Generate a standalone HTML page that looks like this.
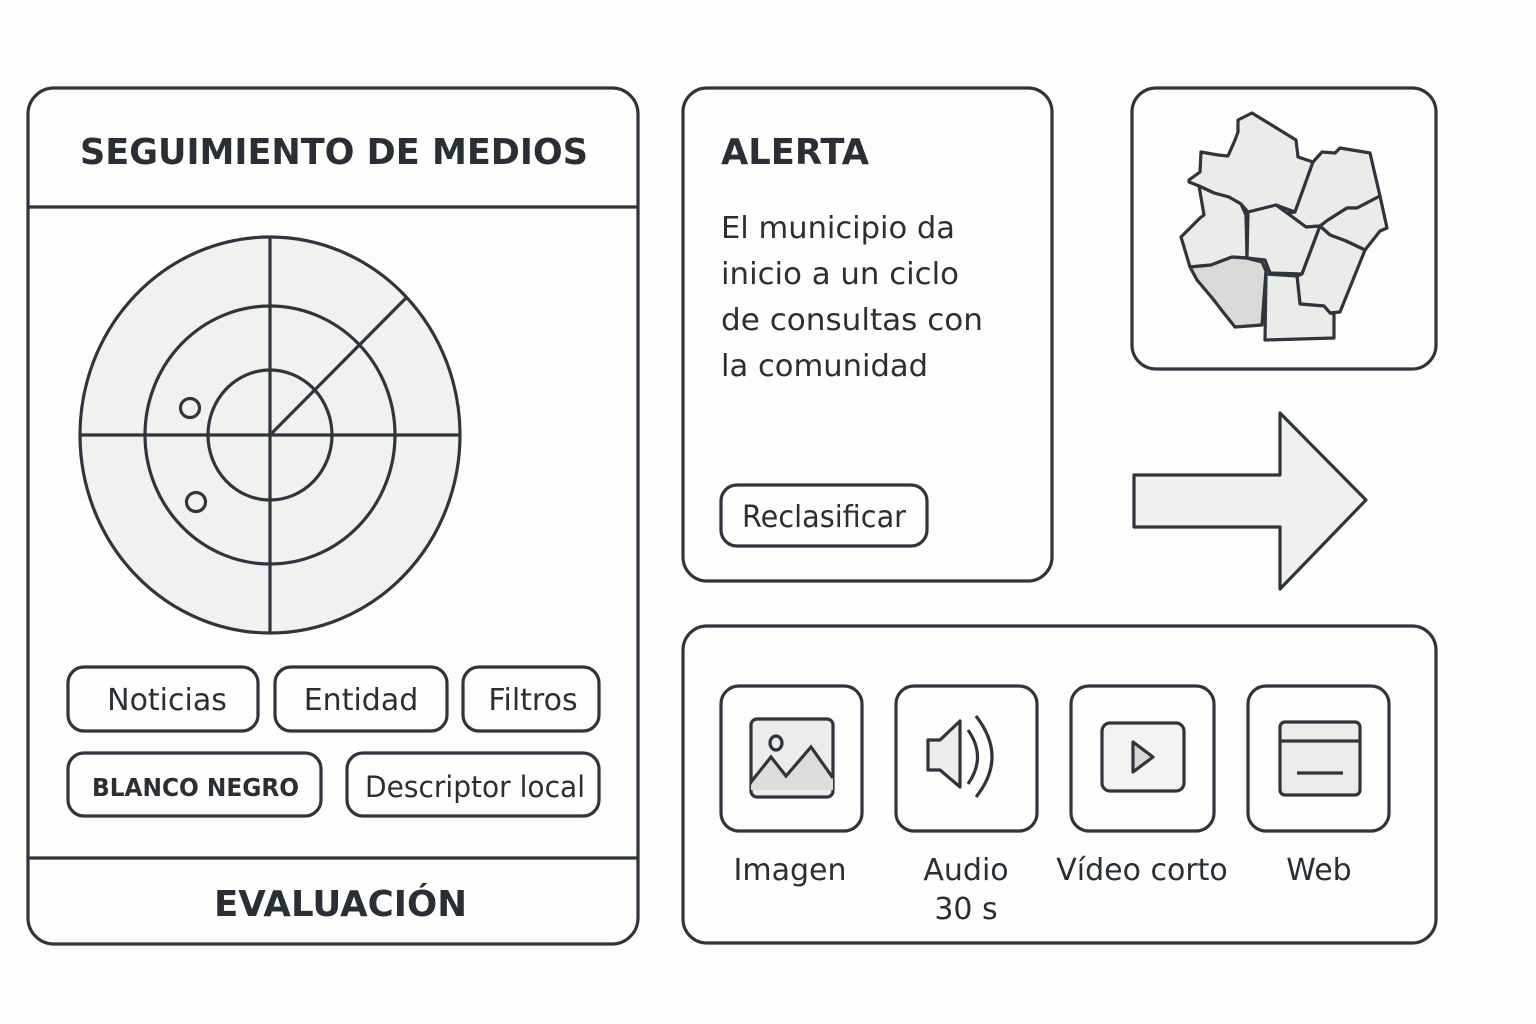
<!DOCTYPE html>
<html><head><meta charset="utf-8"><style>
html,body{margin:0;padding:0;background:#fdfdfc;}
svg{display:block;}
text{font-family:"DejaVu Sans","Liberation Sans",sans-serif;fill:#2a2f36;}
</style></head><body>
<svg width="1536" height="1024" viewBox="0 0 1536 1024" xmlns="http://www.w3.org/2000/svg">
<rect width="1536" height="1024" fill="#fdfdfc"/>
<g fill="none" stroke="#2f353d" stroke-width="3.2">
<rect x="28" y="88" width="610" height="856" rx="26" fill="#fdfdfc"/>
<line x1="28" y1="207" x2="638" y2="207"/>
<line x1="28" y1="858" x2="638" y2="858"/>
<ellipse cx="270" cy="435" rx="190" ry="198" fill="#f1f1f0"/>
<ellipse cx="270" cy="435" rx="125" ry="129"/>
<ellipse cx="270" cy="435" rx="62" ry="65"/>
<line x1="270" y1="237" x2="270" y2="633"/>
<line x1="80" y1="435" x2="461" y2="435"/>
<line x1="270" y1="435" x2="406" y2="298"/>
<circle cx="190" cy="408" r="9.5"/>
<circle cx="196" cy="502" r="9.5"/>
<rect x="68" y="667" width="190" height="64" rx="16"/>
<rect x="275" y="667" width="172" height="64" rx="16"/>
<rect x="463" y="667" width="136" height="64" rx="16"/>
<rect x="68" y="753" width="253" height="63" rx="16"/>
<rect x="347" y="753" width="252" height="63" rx="16"/>
<rect x="683" y="88" width="369" height="493" rx="24" fill="#fdfdfc"/>
<rect x="721" y="485" width="206" height="61" rx="16"/>
<rect x="1132" y="88" width="304" height="281" rx="24"/>
<g fill="#ebebea" stroke-linejoin="round">
<path d="M1189,180 L1200,172 L1201,152 L1218,155 L1228,156 L1235,140 L1238,132 L1238,120 L1252,113 L1296,140 L1298,157 L1313,162 L1295,212 L1276,205 L1260,210 L1248,212 L1241,204 L1229,197 L1214,193 L1199,186 L1189,182 Z"/>
<path d="M1313,162 L1322,152 L1335,153 L1340,148 L1370,153 L1380,196 L1357,208 L1347,208 L1328,220 L1320,226 L1306,227 L1287,213 L1295,212 Z"/>
<path d="M1199,186 L1204,215 L1200,218 L1181,237 L1190,267 L1211,265 L1232,257 L1247,258 L1246,215 L1241,204 L1229,197 L1214,193 Z"/>
<path d="M1248,212 L1276,205 L1287,213 L1306,227 L1320,226 L1302,274 L1270,273 L1265,260 L1247,258 Z"/>
<path d="M1380,196 L1387,228 L1380,231 L1365,250 L1346,241 L1330,235 L1320,226 L1328,220 L1347,208 L1357,208 Z"/>
<path d="M1320,226 L1330,235 L1346,241 L1365,250 L1340,312 L1330,313 L1324,306 L1300,304 L1297,276 L1302,274 Z"/>
<path d="M1190,267 L1197,280 L1213,299 L1223,312 L1235,327 L1262,325 L1266,271 L1262,262 L1246,258 L1232,257 L1211,265 Z" fill="#d9d9d8"/>
<path d="M1266,274 L1297,276 L1300,304 L1324,306 L1330,313 L1334,314 L1334,338 L1265,340 Z"/>
</g>
<path d="M1134,475 L1280,475 L1280,413 L1366,500 L1280,589 L1280,527 L1134,527 Z" fill="#f0f0ef" stroke-linejoin="round"/>
<rect x="683" y="626" width="753" height="317" rx="24"/>
<rect x="721" y="686" width="141" height="145" rx="18"/>
<rect x="896" y="686" width="141" height="145" rx="18"/>
<rect x="1071" y="686" width="143" height="145" rx="18"/>
<rect x="1248" y="686" width="141" height="145" rx="18"/>
<rect x="751" y="719" width="82" height="78" rx="6" fill="#ececeb"/>
<path d="M751,785 L771,757 L786,776 L811,747 L833,778 L833,790 L751,790 Z" fill="#dcdcdb" stroke="none"/>
<polyline points="751,782 771,757 786,776 811,747 833,778"/>
<ellipse cx="776" cy="743" rx="6" ry="7"/>
<path d="M928,740 L940,740 L960,721 L960,787 L940,770 L928,770 Z" fill="#ececeb" stroke-linejoin="round"/>
<path d="M968,730 Q987,757 968,784"/>
<path d="M976,716 Q1008,757 976,797"/>
<rect x="1102" y="723" width="82" height="68" rx="8" fill="#f3f3f2"/>
<path d="M1133,742 L1153,757 L1133,772 Z" fill="#d8d8d7" stroke-linejoin="round"/>
<rect x="1280" y="722" width="80" height="73" rx="5" fill="#ececeb"/>
<line x1="1280" y1="741" x2="1360" y2="741"/>
<line x1="1297" y1="773" x2="1343" y2="773"/>
</g>
<text x="80" y="164" font-size="36" font-weight="bold" textLength="508" lengthAdjust="spacingAndGlyphs">SEGUIMIENTO DE MEDIOS</text>
<text x="214" y="916" font-size="36" font-weight="bold" textLength="253" lengthAdjust="spacingAndGlyphs">EVALUACIÓN</text>
<g font-size="30" text-anchor="middle">
<text x="167" y="710">Noticias</text>
<text x="361" y="710">Entidad</text>
<text x="533" y="710">Filtros</text>
<text x="365" y="797" text-anchor="start" font-size="29" textLength="220" lengthAdjust="spacingAndGlyphs">Descriptor local</text>
<text x="92" y="796" text-anchor="start" font-size="25" font-weight="bold" textLength="207" lengthAdjust="spacingAndGlyphs">BLANCO  NEGRO</text>
<text x="742" y="527" text-anchor="start" textLength="164" lengthAdjust="spacingAndGlyphs">Reclasificar</text>
<text x="790" y="880">Imagen</text>
<text x="966" y="880">Audio</text>
<text x="966" y="919">30 s</text>
<text x="1142" y="880">Vídeo corto</text>
<text x="1319" y="880">Web</text>
</g>
<text x="721" y="164" font-size="36" font-weight="bold" textLength="148" lengthAdjust="spacingAndGlyphs">ALERTA</text>
<g font-size="30">
<text x="721" y="238" textLength="234" lengthAdjust="spacingAndGlyphs">El municipio da</text>
<text x="721" y="284" textLength="238" lengthAdjust="spacingAndGlyphs">inicio a un ciclo</text>
<text x="721" y="330" textLength="262" lengthAdjust="spacingAndGlyphs">de consultas con</text>
<text x="721" y="376" textLength="207" lengthAdjust="spacingAndGlyphs">la comunidad</text>
</g>
</svg>
</body></html>
